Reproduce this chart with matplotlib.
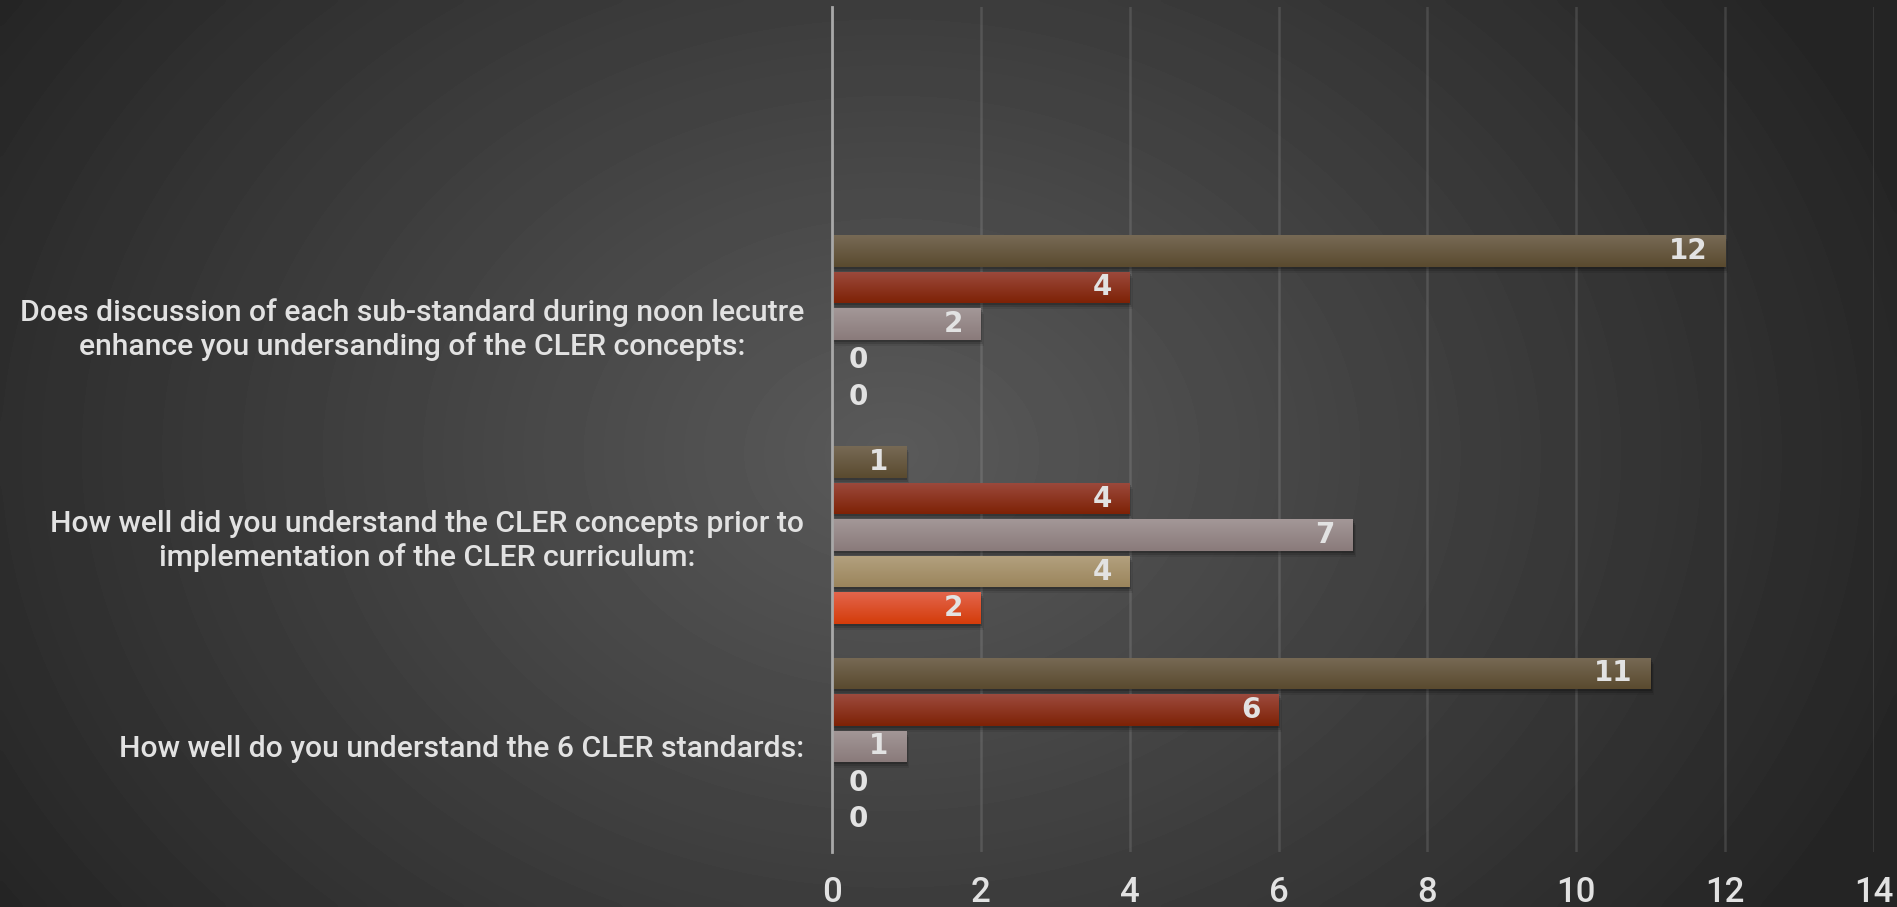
import numpy as np
import matplotlib.pyplot as plt
import matplotlib.transforms as mtransforms
from matplotlib.colors import LinearSegmentedColormap
from matplotlib.patches import Rectangle

# questions, bottom to top as they sit on the axis
questions = [
    "How well do you understand the 6 CLER standards:",
    "How well did you understand the CLER concepts prior to\nimplementation of the CLER curriculum:",
    "Does discussion of each sub-standard during noon lecutre\nenhance you undersanding of the CLER concepts:",
]

# answer counts, one list per series (top bar of each group first)
series_1 = [11, 1, 12]
series_2 = [6, 4, 4]
series_3 = [1, 7, 2]
series_4 = [0, 4, 0]
series_5 = [0, 2, 0]

x_ticks = [0, 2, 4, 6, 8, 10, 12, 14]

all_series = [series_1, series_2, series_3, series_4, series_5]
# (light top, dark bottom) for each series
bar_shades = [
    ("#776a55", "#5a4a2f"),
    ("#9c4a3d", "#7e2206"),
    ("#a39797", "#8a7b7b"),
    ("#b3a17f", "#9b855c"),
    ("#e3654c", "#d43c0a"),
]

text_col = "#e2e2e2"

fig = plt.figure(figsize=(18.97, 9.07), dpi=100)

# background: soft radial grey glow
bg = fig.add_axes([0, 0, 1, 1], zorder=-5)
gx, gy = np.meshgrid(np.linspace(0, 1, 400), np.linspace(0, 1, 200))
d = np.sqrt(((gx - 0.47) / 0.5) ** 2 + ((gy - 0.5) / 0.8) ** 2)
val = 90 - 54 * np.clip(d, 0, 1.15) / 1.15
bg.imshow(val, cmap="gray", vmin=0, vmax=255, aspect="auto",
          extent=[0, 1, 0, 1], interpolation="bicubic")
bg.axis("off")

ax = fig.add_axes([832 / 1897, 1 - 852 / 907, (1874 - 832) / 1897, (852 - 7) / 907])
ax.patch.set_alpha(0)

n_series = len(all_series)
pitch = 0.173
height = 0.149
y_base = np.arange(len(questions))

grad = np.linspace(1, 0, 50).reshape(-1, 1)
for k, (vals, (c_top, c_bot)) in enumerate(zip(all_series, bar_shades)):
    ypos = y_base + (n_series // 2 - k) * pitch
    bars = ax.barh(ypos, vals, height=height, color=c_bot, zorder=3)
    cmap = LinearSegmentedColormap.from_list("g%d" % k, [c_bot, c_top])
    for rect, v, y in zip(bars, vals, ypos):
        if v > 0:
            # soft drop shadow, a few stacked translucent layers
            for dx, dy, a in [(1, -2, 0.18), (2, -4, 0.14), (3, -6, 0.08)]:
                off = mtransforms.ScaledTranslation(dx / 100, dy / 100, fig.dpi_scale_trans)
                sh = Rectangle(rect.get_xy(), rect.get_width(), rect.get_height(),
                               facecolor="black", alpha=a, edgecolor="none",
                               transform=ax.transData + off, zorder=2)
                ax.add_patch(sh)
            im = ax.imshow(grad, cmap=cmap, aspect="auto", zorder=3.5,
                           extent=[0, v, y - height / 2, y + height / 2])
            im.set_clip_path(rect)
            ax.annotate(str(v), (v, y), xytext=(-13, 0), textcoords="offset points",
                        ha="right", va="center", color=text_col, fontsize=20,
                        fontweight="bold", family="DejaVu Sans", zorder=5)
        else:
            ax.annotate(str(v), (0, y), xytext=(12, 0), textcoords="offset points",
                        ha="left", va="center", color=text_col, fontsize=20,
                        fontweight="bold", family="DejaVu Sans", zorder=5)

ax.set_xlim(0, 14)
ax.set_ylim(-0.5, 3.5)
ax.set_xticks(x_ticks)
ax.set_yticks(y_base, questions)
ax.tick_params(axis="both", length=0, colors=text_col)
ax.tick_params(axis="x", pad=17, labelsize=25)
ax.tick_params(axis="y", pad=20, labelsize=21.7)
for lab in ax.get_xticklabels() + ax.get_yticklabels():
    lab.set_family("Roboto")
    lab.set_fontweight("medium")
plt.setp(ax.get_yticklabels(), multialignment="center", linespacing=1.25)

ax.grid(axis="x", color="white", alpha=0.12, linewidth=1.8, zorder=0)
ax.set_axisbelow(True)
for side in ["top", "right", "bottom"]:
    ax.spines[side].set_visible(False)
ax.spines["left"].set_color("#a8a8a8")
ax.spines["left"].set_linewidth(2)
ax.spines["left"].set_zorder(6)

fig.savefig("out.png", dpi=100)
